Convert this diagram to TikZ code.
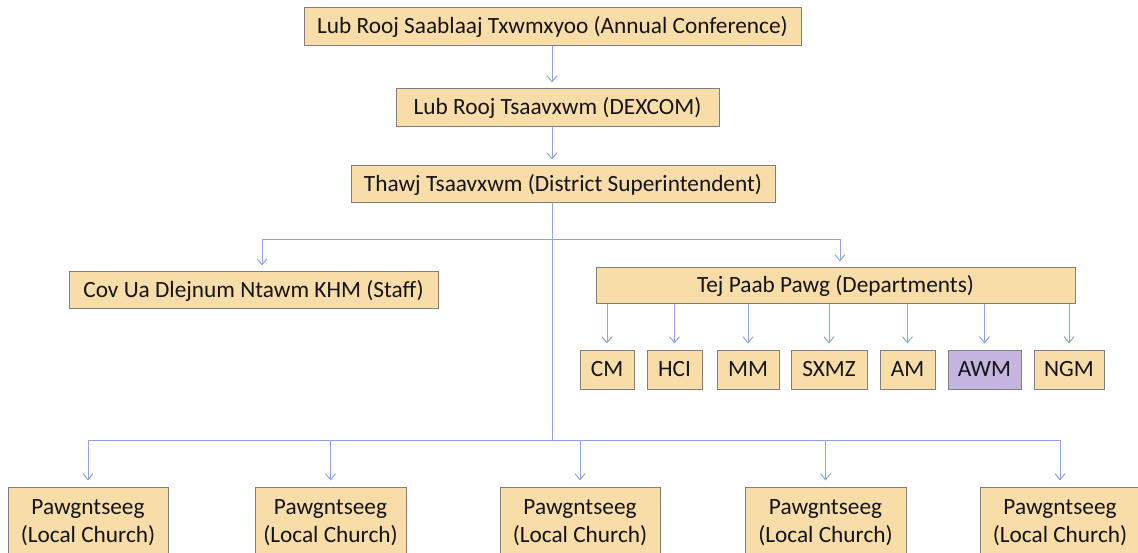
\documentclass[tikz,border=0pt]{standalone}
\usepackage{fontspec}
\setmainfont{Carlito}
\usetikzlibrary{arrows.meta}
\definecolor{boxfill}{RGB}{249,221,168}
\definecolor{boxline}{RGB}{128,128,128}
\definecolor{awmfill}{RGB}{196,180,224}
\definecolor{linkblue}{RGB}{140,168,222}
\definecolor{textdark}{RGB}{20,20,20}
\tikzset{
  box/.style={draw=boxline, fill=boxfill, line width=1pt, inner sep=0pt,
    minimum height=38pt, text=textdark, font=\fontsize{23.3}{28}\selectfont},
  link/.style={draw=linkblue, line width=1pt},
  arr/.style={link, -{Straight Barb[length=6pt,width=10pt]}, shorten >=6pt}
}
\begin{document}
\begin{tikzpicture}[x=1pt, y=-1pt]
    \useasboundingbox (0,0) rectangle (1138,553);
    % upper chain
    \node[box, minimum width=497pt] (conf) at (552.5, 27) {Lub Rooj Saablaaj Txwmxyoo (Annual Conference)};
    \node[box, minimum width=323pt] (dex) at (557.5, 108) {Lub Rooj Tsaavxwm (DEXCOM)};
    \node[box, minimum width=424pt, minimum height=37pt] (ds) at (563, 184.5) {Thawj Tsaavxwm (District Superintendent)};
    \node[box, minimum width=369pt, minimum height=37pt] (staff) at (253.5, 290.5) {Cov Ua Dlejnum Ntawm KHM (Staff)};
    \node[box, minimum width=479pt, minimum height=36pt] (dept) at (835.5, 286) {Tej Paab Pawg (Departments)};
    % departments
    \node[box, minimum width=54pt, minimum height=39pt] (cm) at (607, 369.5) {CM};
    \node[box, minimum width=55pt, minimum height=39pt] (hci) at (674.5, 369.5) {HCI};
    \node[box, minimum width=62pt, minimum height=39pt] (mm) at (748, 369.5) {MM};
    \node[box, minimum width=76pt, minimum height=39pt] (sxmz) at (829, 369.5) {SXMZ};
    \node[box, minimum width=55pt, minimum height=39pt] (am) at (907.5, 369.5) {AM};
    \node[box, fill=awmfill, minimum width=73pt, minimum height=39pt] (awm) at (984.5, 369.5) {AWM};
    \node[box, minimum width=70pt, minimum height=39pt] (ngm) at (1069, 369.5) {NGM};
    % local churches
    \foreach \n/\x/\w in {lc1/88/160, lc2/330.5/151, lc3/580/160, lc4/825.5/161, lc5/1060/160}
        \node[box, align=center, minimum width=\w pt, minimum height=72pt] (\n) at (\x, 523) {Pawgntseeg\\(Local Church)};
    % connectors
    \coordinate (split) at (552, 240);
    \coordinate (hub) at (552, 440);
    \draw[arr] (conf.south -| 552,0) -- (dex.north -| 552,0);
    \draw[arr] (dex.south -| 552,0) -- (ds.north -| 552,0);
    \draw[link] (ds.south -| split) -- (hub);
    \draw[arr] (split) -| ([xshift=8.5pt]staff.north);
    \draw[arr] (split) -| ([xshift=4.5pt]dept.north);
    \foreach \d in {cm, hci, mm, sxmz, am, awm, ngm}
        \draw[arr] (dept.south -| \d) -- (\d);
    \foreach \c in {lc1, lc2, lc3, lc4, lc5}
        \draw[arr] (hub) -| (\c);
\end{tikzpicture}
\end{document}
